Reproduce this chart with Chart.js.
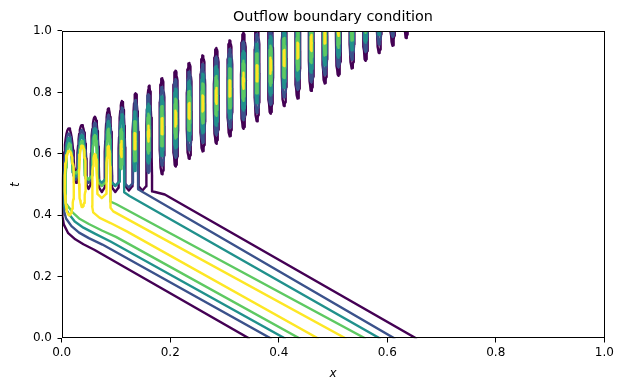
<!DOCTYPE html>
<html><head><meta charset="utf-8">
<script src="https://cdn.jsdelivr.net/npm/chart.js@4/dist/chart.umd.min.js"></script>
<style>html,body{margin:0;padding:0;background:#fff;}</style>
</head><body>
<canvas id="c" width="624" height="391"></canvas>
<script>
// ---------------- data ----------------
const xTicks = [0, 0.2, 0.4, 0.6, 0.8, 1.0];
const tTicks = [0, 0.2, 0.4, 0.6, 0.8, 1.0];
const levelColors = ['#440154', '#3b528b', '#21918c', '#5ec962', '#fde725'];

// crests of the reflected oscillation (closed loops): centre x and centre t
const crestX = [0.010,0.035,0.060,0.085,0.110,0.135,0.160,0.185,0.210,0.235,0.260,0.285,0.310,0.335,0.360,0.385,0.410,0.435,0.460,0.485,0.510,0.535,0.560,0.585,0.610,0.635,0.660];
const crestT = [0.518,0.543,0.567,0.592,0.616,0.641,0.666,0.690,0.715,0.740,0.764,0.789,0.813,0.838,0.862,0.887,0.912,0.936,0.961,0.985,1.010,1.034,1.059,1.084,1.108,1.133,1.157];
// half size of a crest loop for each contour level
const crestHalfT = [0.156, 0.128, 0.097, 0.065, 0.026];
const crestHalfX = [0.0046, 0.0037, 0.0028, 0.0019, 0.0010];
// first crest index drawn as a free loop for each level
const firstFree = [7, 6, 5, 4, 4];

// comb-shaped contours (incident band joined to crests near x = 0)
// lowerN: lower band edge from t = 0 up to the boundary; fingerN: crest fingers;
// valleyN: [left base of first finger, valleys between fingers..., right base of last finger]
const lower0 = [[0.345,0],[0.06,0.288],[0.04,0.306],[0.025,0.322],[0.012,0.342],[0.004,0.37]];
const fingerX0 = [0.013,0.037,0.061,0.086,0.111,0.136,0.161];
const fingerTop0 = [0.683,0.694,0.721,0.748,0.772,0.797,0.822];
const fingerW0 = [0.012,0.009,0.008,0.007,0.0065,0.006,0.0055];
const valley0 = [0.40, 0.52,0.50,0.49,0.49,0.495,0.495, 0.478];
const upper0 = [[0.172,0.476],[0.19,0.468],[0.653,0]];

const lower1 = [[0.385,0],[0.075,0.305],[0.05,0.326],[0.032,0.344],[0.018,0.365],[0.008,0.39]];
const fingerX1 = [0.013,0.037,0.061,0.086,0.111,0.136];
const fingerTop1 = [0.667,0.678,0.702,0.727,0.751,0.776];
const fingerW1 = [0.0095,0.0075,0.0065,0.0058,0.0052,0.0048];
const valley1 = [0.42, 0.53,0.52,0.51,0.51,0.505, 0.485];
const upper1 = [[0.15,0.475],[0.165,0.46],[0.613,0]];

const lower2 = [[0.411,0],[0.09,0.315],[0.062,0.34],[0.04,0.36],[0.024,0.38],[0.013,0.405]];
const fingerX2 = [0.013,0.037,0.061,0.086,0.111];
const fingerTop2 = [0.652,0.662,0.684,0.707,0.729];
const fingerW2 = [0.008,0.0063,0.0055,0.0048,0.0042];
const valley2 = [0.43, 0.54,0.53,0.52,0.51, 0.475];
const upper2 = [[0.125,0.463],[0.586,0]];

const lower3 = [[0.438,0],[0.10,0.33],[0.075,0.35],[0.05,0.372],[0.032,0.39],[0.02,0.41]];
const fingerX3 = [0.014,0.037,0.061,0.086];
const fingerTop3 = [0.634,0.642,0.662,0.682];
const fingerW3 = [0.007,0.0056,0.0047,0.004];
const valley3 = [0.44, 0.55,0.53,0.51, 0.445];
const upper3 = [[0.10,0.437],[0.559,0]];

const lower4 = [[0.472,0],[0.12,0.348],[0.09,0.375],[0.07,0.392],[0.058,0.41]];
const fingerX4 = [0.061,0.086];
const fingerTop4 = [0.60,0.625];
const fingerW4 = [0.005,0.0042];
const valley4 = [0.43, 0.47, 0.425];
const upper4 = [[0.095,0.413],[0.523,0]];
// large closed loops next to the boundary: [x, t, halfX, halfT]
const loops4 = [[0.014,0.505,0.0085,0.105],[0.038,0.527,0.0062,0.10]];

// ---------------- shape helpers ----------------
function ellipsePts(cx, ct, hx, ht) {
  const pts = [];
  for (let i = 0; i <= 48; i++) {
    const a = 2 * Math.PI * i / 48;
    pts.push({x: cx + hx * Math.cos(a), y: ct + ht * Math.sin(a)});
  }
  return pts;
}
// upper part of a loop standing on bases bl (left) and br (right)
function fingerPts(cx, top, w, bl, br) {
  const cy = Math.min(bl, br), H = top - cy, pts = [];
  const aL = Math.PI - Math.asin(Math.min(1, (bl - cy) / H));
  const aR = Math.asin(Math.min(1, (br - cy) / H));
  for (let i = 0; i <= 20; i++) {
    const a = aL + (aR - aL) * i / 20;
    pts.push({x: cx + w * Math.cos(a), y: cy + H * Math.sin(a)});
  }
  return pts;
}
function combPts(lower, fx, tops, ws, valleys, upper) {
  const pts = lower.map(p => ({x: p[0], y: p[1]}));
  for (let k = 0; k < fx.length; k++) {
    pts.push(...fingerPts(fx[k], tops[k], ws[k], valleys[k], valleys[k + 1]));
    if (k < fx.length - 1) {
      pts.push({x: (fx[k] + ws[k] + fx[k + 1] - ws[k + 1]) / 2, y: valleys[k + 1] - 0.014});
    }
  }
  upper.forEach(p => pts.push({x: p[0], y: p[1]}));
  return pts;
}

const combs = [
  [lower0, fingerX0, fingerTop0, fingerW0, valley0, upper0, []],
  [lower1, fingerX1, fingerTop1, fingerW1, valley1, upper1, []],
  [lower2, fingerX2, fingerTop2, fingerW2, valley2, upper2, []],
  [lower3, fingerX3, fingerTop3, fingerW3, valley3, upper3, []],
  [lower4, fingerX4, fingerTop4, fingerW4, valley4, upper4, loops4]
];

const datasets = [];
function addPath(level, pts) {
  datasets.push({
    data: pts, showLine: true, borderColor: levelColors[level], borderWidth: 2.4,
    pointRadius: 0, fill: false, tension: 0, clip: 0, order: 4 - level,
    borderJoinStyle: 'round', borderCapStyle: 'round'
  });
}
for (let L = 0; L < 5; L++) {
  const c = combs[L];
  addPath(L, combPts(c[0], c[1], c[2], c[3], c[4], c[5]));
  c[6].forEach(l => addPath(L, ellipsePts(l[0], l[1], l[2], l[3])));
  for (let k = firstFree[L]; k < crestX.length; k++) {
    addPath(L, ellipsePts(crestX[k], crestT[k], crestHalfX[L], crestHalfT[L]));
  }
}

// ---------------- chart ----------------
Chart.defaults.font.family = '"DejaVu Sans", sans-serif';
Chart.defaults.color = '#000';

const frame = {
  id: 'frame',
  afterDatasetsDraw(chart) {
    const a = chart.chartArea, ctx = chart.ctx;
    ctx.save();
    ctx.strokeStyle = '#000'; ctx.lineWidth = 1;
    ctx.strokeRect(Math.round(a.left) + 0.5, Math.round(a.top) + 0.5,
                   Math.round(a.right - a.left) - 1, Math.round(a.bottom - a.top) - 1);
    ctx.restore();
  }
};

function axis(ticksArr, titleText, isX) {
  return {
    type: 'linear', min: 0, max: 1,
    afterBuildTicks: s => { s.ticks = ticksArr.map(v => ({value: v})); },
    afterFit: s => { if (isX) s.height = 52.7; else s.width = 61.7; },
    ticks: { font: {size: 12}, padding: isX ? 3.5 : 5.5, callback: v => Number(v).toFixed(1), maxRotation: 0, autoSkip: false },
    grid: { display: true, drawOnChartArea: false, drawTicks: true, tickLength: 4.2, tickColor: '#000', tickWidth: 1 },
    border: { display: false },
    title: { display: true, text: titleText, font: {size: 12, style: 'italic'},
             padding: isX ? {top: 0, bottom: 9.8} : {top: 8.8, bottom: 0} }
  };
}

new Chart(document.getElementById('c'), {
  type: 'scatter',
  data: { datasets },
  options: {
    responsive: false, animation: false, devicePixelRatio: 1,
    layout: { padding: {left: 0, right: 19.7, top: 0, bottom: 0} },
    plugins: {
      legend: {display: false}, tooltip: {enabled: false},
      title: { display: true, fullSize: false, text: 'Outflow boundary condition', font: {size: 14.4, weight: 'normal'},
               padding: {top: 8.4, bottom: 5.3}, color: '#000' }
    },
    scales: { x: axis(xTicks, 'x', true), y: axis(tTicks, 't', false) }
  },
  plugins: [frame]
});
</script>
</body></html>
